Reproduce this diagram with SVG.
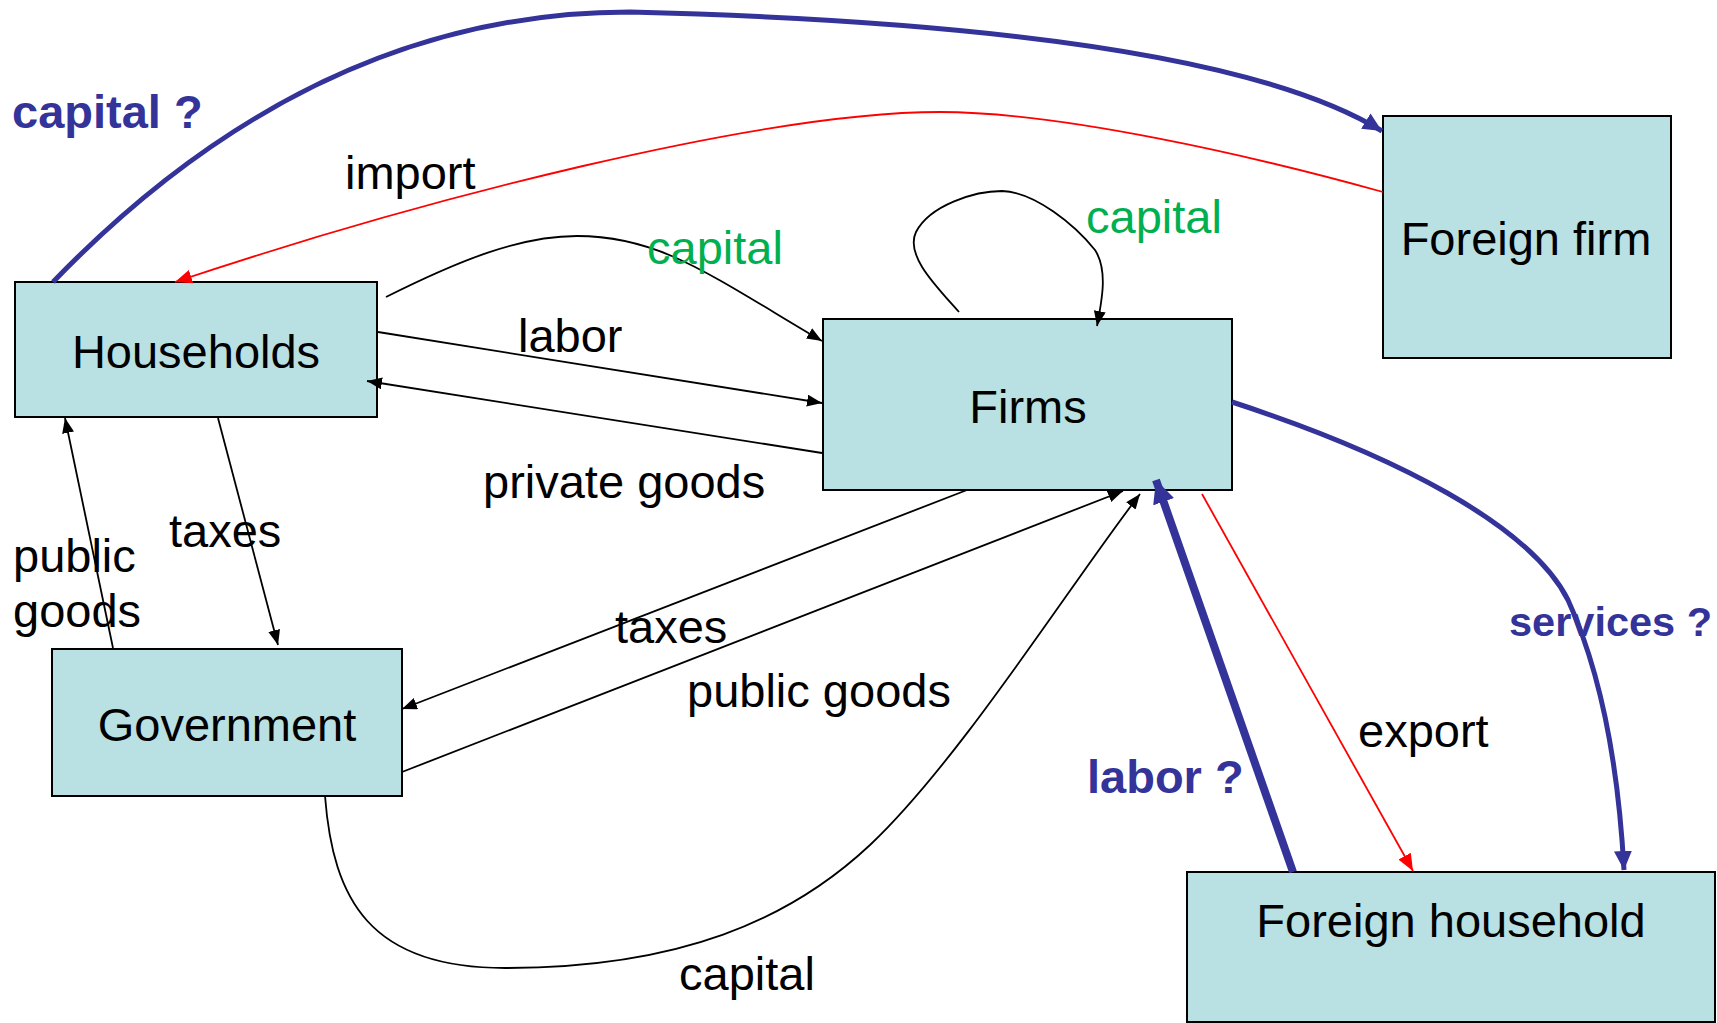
<svg xmlns="http://www.w3.org/2000/svg" width="1717" height="1023" viewBox="0 0 1717 1023">
  <style>
    .box { fill: #B9E0E3; stroke: #000; stroke-width: 2; }
    .node-label { font-family: "Liberation Sans", Arial, sans-serif; font-size: 47px; fill: #000; text-anchor: middle; }
    .lbl { font-family: "Liberation Sans", Arial, sans-serif; font-size: 47px; fill: #000; }
    .lbl.small { font-size: 41.5px; }
    .green { fill: #00B050; }
    .blue { fill: #333399; font-weight: bold; }
    .flow { fill: none; stroke: #000; stroke-width: 1.8; marker-end: url(#arrow-black); }
    .trade { fill: none; stroke: #FF0000; stroke-width: 1.8; marker-end: url(#arrow-red); }
    .factor { fill: none; stroke: #333399; stroke-width: 5; marker-end: url(#arrow-blue); }
    .factor.heavy { stroke-width: 8; marker-end: url(#arrow-blue-big); }
  </style>
  <defs>
    <marker id="arrow-black" markerUnits="userSpaceOnUse" markerWidth="16" markerHeight="12" refX="15" refY="6" orient="auto">
      <path d="M0,0 L15,6 L0,12 z" fill="#000"/>
    </marker>
    <marker id="arrow-red" markerUnits="userSpaceOnUse" markerWidth="18" markerHeight="14" refX="17" refY="7" orient="auto">
      <path d="M0,0 L17,7 L0,14 z" fill="#FF0000"/>
    </marker>
    <marker id="arrow-blue" markerUnits="userSpaceOnUse" markerWidth="20" markerHeight="18" refX="19" refY="9" orient="auto">
      <path d="M0,0 L19,9 L0,18 z" fill="#333399"/>
    </marker>
    <marker id="arrow-blue-big" markerUnits="userSpaceOnUse" markerWidth="24" markerHeight="22" refX="23" refY="11" orient="auto">
      <path d="M0,0 L23,11 L0,22 z" fill="#333399"/>
    </marker>
  </defs>

  <!-- nodes -->
  <g id="households">
    <rect class="box" x="15" y="282" width="362" height="135"/>
    <text class="node-label" x="196" y="368">Households</text>
  </g>
  <g id="firms">
    <rect class="box" x="823" y="319" width="409" height="171"/>
    <text class="node-label" x="1028" y="423">Firms</text>
  </g>
  <g id="foreign-firm">
    <rect class="box" x="1383" y="116" width="288" height="242"/>
    <text class="node-label" x="1526" y="255">Foreign firm</text>
  </g>
  <g id="government">
    <rect class="box" x="52" y="649" width="350" height="147"/>
    <text class="node-label" x="227" y="741">Government</text>
  </g>
  <g id="foreign-household">
    <rect class="box" x="1187" y="872" width="528" height="150"/>
    <text class="node-label" x="1451" y="937">Foreign household</text>
  </g>

  <!-- connectors -->
  <g id="connectors">
    <!-- capital ? : households to foreign firm -->
    <path class="factor" d="M53,282 C190,140 380,12 630,12 C950,20 1250,50 1382,131"/>
    <!-- import : foreign firm to households -->
    <path class="trade" d="M1383,192 C1250,155 1060,112 940,112 C760,112 420,200 175,282"/>
    <!-- capital : households to firms -->
    <path class="flow" d="M386,297 C460,260 520,236 577,236 C660,236 710,275 822,341"/>
    <!-- capital : firms to firms -->
    <path class="flow" d="M959,312 C935,285 905,255 916,232 C930,205 975,191 1002,191 C1035,192 1075,225 1095,250 C1108,270 1102,300 1097,326"/>
    <!-- labor -->
    <path class="flow" d="M378,332 L822,403"/>
    <!-- private goods -->
    <path class="flow" d="M822,453 L367,381"/>
    <!-- taxes : households to government -->
    <path class="flow" d="M218,418 L278,645"/>
    <!-- public goods : government to households -->
    <path class="flow" d="M113,648 L65,418"/>
    <!-- taxes : firms to government -->
    <path class="flow" d="M967,490 L402,709"/>
    <!-- public goods : government to firms -->
    <path class="flow" d="M402,772 L1123,491"/>
    <!-- capital : government to firms -->
    <path class="flow" d="M325,796 C333,900 370,968 505,968 C680,968 790,920 870,845 C960,760 1070,585 1140,494"/>
    <!-- export -->
    <path class="trade" d="M1202,494 L1413,871"/>
    <!-- labor ? : foreign household to firms -->
    <path class="factor heavy" d="M1293,872 L1156,480"/>
    <!-- services ? : firms to foreign household -->
    <path class="factor" d="M1232,402 C1395,455 1530,525 1568,600 C1600,670 1618,760 1624,870"/>
  </g>

  <!-- flow labels -->
  <g id="labels">
    <text class="lbl blue" x="12" y="128">capital ?</text>
    <text class="lbl" x="345" y="189">import</text>
    <text class="lbl green" x="647" y="264">capital</text>
    <text class="lbl green" x="1086" y="233">capital</text>
    <text class="lbl" x="518" y="352">labor</text>
    <text class="lbl" x="483" y="498">private goods</text>
    <text class="lbl" x="169" y="547">taxes</text>
    <text class="lbl" x="13" y="572">public</text>
    <text class="lbl" x="13" y="627">goods</text>
    <text class="lbl" x="615" y="643">taxes</text>
    <text class="lbl" x="687" y="707">public goods</text>
    <text class="lbl" x="679" y="990">capital</text>
    <text class="lbl blue" x="1087" y="793">labor ?</text>
    <text class="lbl" x="1358" y="747">export</text>
    <text class="lbl blue small" x="1509" y="636">services ?</text>
  </g>
</svg>
